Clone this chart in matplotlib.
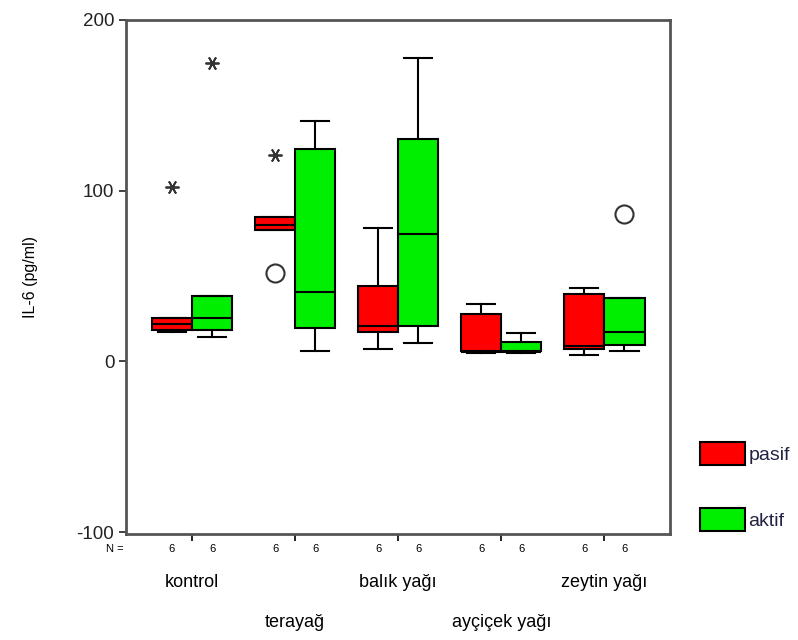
import matplotlib.pyplot as plt
from matplotlib.patches import Patch

plt.rcParams['font.family'] = ['Liberation Sans', 'DejaVu Sans']
plt.rcParams['axes.unicode_minus'] = False

groups = ["kontrol", "terayağ", "balık yağı", "ayçiçek yağı", "zeytin yağı"]
series = ["pasif", "aktif"]
colors = ["#ff0000", "#00ee00"]
n_counts = [[6, 6], [6, 6], [6, 6], [6, 6], [6, 6]]

# box statistics, [pasif, aktif] per group
q1 = [[18.6, 18.6], [76.7, 19.7], [17.4, 20.9], [5.8, 5.8], [7.0, 9.3]]
med = [[22.0, 25.6], [79.7, 40.5], [20.9, 74.4], [5.5, 5.5], [8.7, 17.4]]
q3 = [[25.6, 38.4], [84.5, 124.4], [44.2, 130.2], [27.9, 11.6], [39.5, 37.2]]
whislo = [[17.4, 14.0], [76.7, 5.8], [7.0, 10.5], [5.0, 5.0], [3.5, 5.8]]
whishi = [[25.6, 38.4], [84.5, 140.7], [77.9, 177.9], [33.7, 16.3], [43.0, 37.2]]
# extremes (*) and outliers (o): (group, series, value)
extremes = [(0, 0, 102), (0, 1, 175), (1, 0, 121)]
outliers = [(1, 0, 51.6), (4, 1, 86)]

fig = plt.figure(figsize=(7.98, 6.4), dpi=100)
ax = fig.add_axes([0.158, 0.166, 0.682, 0.803])

bw = 0.39
offs = [-bw / 2, bw / 2]
for s in range(2):
    stats = []
    for g in range(len(groups)):
        stats.append(dict(med=med[g][s], q1=q1[g][s], q3=q3[g][s],
                          whislo=whislo[g][s], whishi=whishi[g][s], fliers=[]))
    pos = [g + offs[s] for g in range(len(groups))]
    ax.bxp(stats, positions=pos, widths=bw, patch_artist=True, showfliers=False,
           boxprops=dict(facecolor=colors[s], edgecolor="black", linewidth=1.5),
           medianprops=dict(color="black", linewidth=1.5),
           whiskerprops=dict(color="black", linewidth=1.5),
           capprops=dict(color="black", linewidth=1.5), capwidths=bw * 0.7,
           manage_ticks=False)

for g, s, v in extremes:
    ax.plot(g + offs[s], v, marker=(6, 2, 90), markersize=10, color="#333333",
            markeredgewidth=1.3, linestyle="none")
for g, s, v in outliers:
    ax.plot(g + offs[s], v, marker="o", markersize=13, markerfacecolor="none",
            markeredgecolor="#333333", markeredgewidth=1.5, linestyle="none")

ax.set_xlim(-0.64, 4.64)
ax.set_ylim(-101, 200)
ax.set_yticks([-100, 0, 100, 200])
ax.tick_params(axis="y", labelsize=13.5, length=5, width=1.2, colors="#222222")
ax.set_xticks(range(len(groups)))
ax.tick_params(axis="x", labelbottom=False, length=5, width=1.2)
for sp in ax.spines.values():
    sp.set_color("#555555")
    sp.set_linewidth(2)
ax.set_ylabel("IL-6 (pg/ml)", fontsize=11.5, labelpad=28)

# N row and group labels below the axis
trans = ax.get_xaxis_transform()
ax.text(-0.66, -0.03, "N =", transform=trans, fontsize=8, ha="right", va="center")
for g in range(len(groups)):
    for s in range(2):
        ax.text(g + offs[s], -0.03, str(n_counts[g][s]), transform=trans,
                fontsize=8, ha="center", va="center")
    yl = -0.095 if g % 2 == 0 else -0.173
    ax.text(g, yl, groups[g], transform=trans, fontsize=13,
            ha="center", va="center")

handles = [Patch(facecolor=c, edgecolor="black", linewidth=1.5) for c in colors]
fig.legend(handles, series, loc="upper left", bbox_to_anchor=(0.855, 0.337),
           frameon=False, fontsize=14, handlelength=2.3, handleheight=1.45,
           handletextpad=0.2, labelspacing=2.2, labelcolor="#222244")

fig.savefig("out.png", dpi=100)
